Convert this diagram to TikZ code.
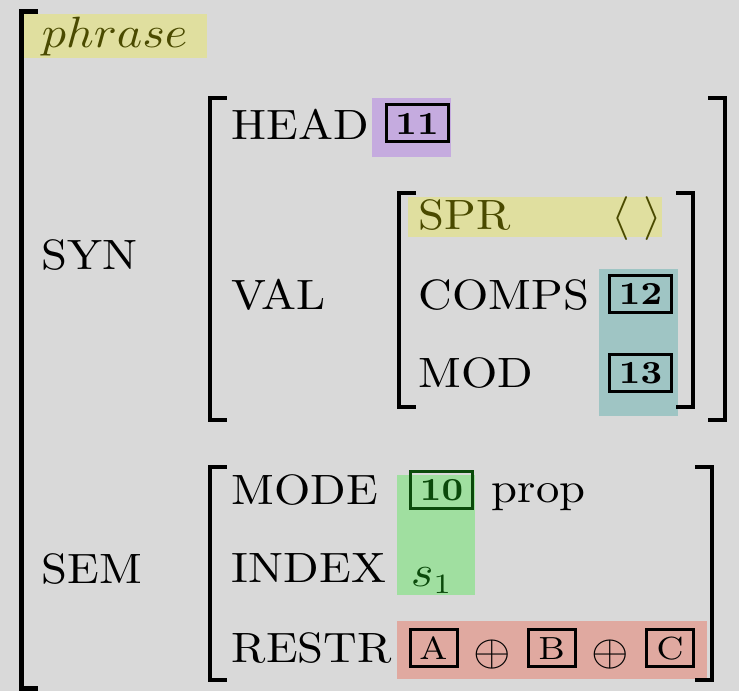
\documentclass[tikz,border=0pt]{standalone}
\usepackage{graphicx}
\usepackage{amssymb}

\definecolor{bggray}{HTML}{D9D9D9}
\definecolor{hlyellow}{HTML}{E0DF9F}
\definecolor{hlpurple}{HTML}{C5ABDF}
\definecolor{hlteal}{HTML}{9FC5C4}
\definecolor{hlgreen}{HTML}{A0DFA0}
\definecolor{hlred}{HTML}{E0A9A0}
\definecolor{txolive}{HTML}{4A4A00}
\definecolor{txgreen}{HTML}{0B4A0B}

% text of the matrix is set a little wide
\newcommand{\wx}[1]{\scalebox{1.1}[1]{#1}}

\begin{document}
\begin{tikzpicture}[x=0.25pt, y=-0.25pt,
	feat/.style={anchor=base west, inner sep=0pt, font=\fontsize{10.6}{12}\selectfont},
	tag/.style={draw, line width=0.75pt, inner sep=0pt, minimum width=15.5pt, minimum height=9.25pt, font=\fontsize{8}{9}\selectfont\bfseries},
	ltag/.style={draw, line width=0.75pt, inner sep=0pt, minimum width=11.75pt, minimum height=9.25pt, font=\fontsize{8}{9}\selectfont},
	brak/.style={line width=1pt}]
% background
\fill[bggray] (0,0) rectangle (739,691);
\useasboundingbox (0,0) rectangle (739,691);

% highlights
\fill[hlyellow] (24,14) rectangle (207,58);
\fill[hlpurple] (372,98) rectangle (451,157);
\fill[hlyellow] (408,197) rectangle (662,237);
\fill[hlteal] (599,269) rectangle (678,416);
\fill[hlgreen] (397,475) rectangle (475,595);
\fill[hlred] (397,621) rectangle (707,679);

% brackets
\draw[line width=1.25pt] (38,12) -| (21,689) -- (38,689);
\foreach \l/\r/\t/\b in {209.5/725/98/420, 399/693/193/407, 209.5/712/467/680} {
	\draw[brak] (\l+17,\t) -| (\l,\b) -- (\l+17,\b);
	\draw[brak] (\r-17,\t) -| (\r,\b) -- (\r-17,\b);
}

% features
\node[feat, text=txolive] (phrase) at (41,48) {\wx{$phrase$}};
\foreach \t/\x/\y/\n in {SYN/41/270/syn, SEM/41/584/sem, HEAD/231/140/head, VAL/231/310/val,
	MODE/231/505/mode, INDEX/231/583/index, RESTR/231/663/restr, COMPS/418/310/comps, MOD/418/388/mod}
	\node[feat] (\n) at (\x,\y) {\wx{\t}};
\node[feat, text=txolive] (spr) at (418,230) {\wx{SPR}};

% values
\node[feat, text=txolive] (empty) at (611,230) {\wx{$\langle\;\rangle$}};
\node[tag] (tag11) at (417,123.5) {\wx{11}};
\node[tag] (tag12) at (640.5,294) {\wx{12}};
\node[tag] (tag13) at (640.5,373.5) {\wx{13}};
\node[tag, draw=txgreen, text=txgreen] (tag10) at (441.5,490) {\wx{10}};
\node[feat] (prop) at (491,503) {\wx{prop}};
\node[feat, text=txgreen] (s1) at (410,587) {\wx{$s_1$}};
\foreach \l/\x in {A/433.5, B/551.5, C/670}
	\node[ltag] (tag\l) at (\x,648.5) {\wx{\l}};
\foreach \x [count=\i] in {492.5, 610}
	\node[inner sep=0pt, font=\fontsize{11}{13}\selectfont] (plus\i) at (\x,655) {\wx{$\oplus$}};
\end{tikzpicture}
\end{document}
